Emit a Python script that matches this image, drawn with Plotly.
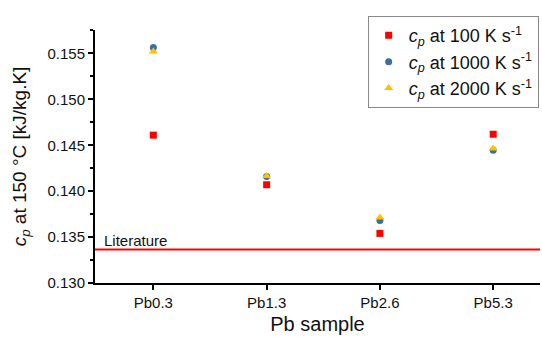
import plotly.graph_objects as go

samples = ["Pb0.3", "Pb1.3", "Pb2.6", "Pb5.3"]
cp_100 = [0.1461, 0.1407, 0.1354, 0.1462]
cp_1000 = [0.15565, 0.1416, 0.1368, 0.14446]
cp_2000 = [0.1552, 0.14166, 0.13714, 0.14464]
cp_literature = 0.13366

series = [
    ("<i>c<sub>p</sub></i> at 100 K s<sup>-1</sup>", cp_100, "square", "#ff0000", 7),
    ("<i>c<sub>p</sub></i> at 1000 K s<sup>-1</sup>", cp_1000, "circle", "#3a6ea5", 7),
    ("<i>c<sub>p</sub></i> at 2000 K s<sup>-1</sup>", cp_2000, "triangle-up", "#ffc000", 8),
]

fig = go.Figure()
for name, vals, sym, col, sz in series:
    fig.add_trace(go.Scatter(
        x=samples, y=vals, mode="markers", name=name,
        marker=dict(symbol=sym, color=col, size=sz, line=dict(width=0)),
    ))

# Literature reference value
fig.add_shape(type="line", xref="paper", x0=0, x1=1, yref="y",
              y0=cp_literature, y1=cp_literature,
              line=dict(color="#ff0000", width=2))
fig.add_annotation(xref="paper", x=0.016, yref="y", y=cp_literature,
                   text="Literature", showarrow=False, xanchor="left",
                   yanchor="bottom", yshift=-2,
                   font=dict(size=15, color="#111111"))

fig.update_layout(
    width=542, height=337,
    margin=dict(l=95, r=2, t=30, b=54, autoexpand=False),
    paper_bgcolor="white", plot_bgcolor="white",
    font=dict(family="Liberation Sans, Arial, sans-serif", color="#111111"),
    showlegend=True,
    legend=dict(x=0.997, y=1.055, xanchor="right", yanchor="top",
                bordercolor="#888888", borderwidth=1, bgcolor="white",
                font=dict(size=18), itemwidth=30, tracegroupgap=0),
    xaxis=dict(
        type="category", range=[-0.515, 3.413],
        showline=True, linecolor="black", linewidth=2,
        ticks="outside", ticklen=5, tickwidth=2, tickcolor="black",
        showgrid=False, zeroline=False,
        tickfont=dict(size=15),
        title=dict(text="Pb sample", font=dict(size=20), standoff=7),
    ),
    yaxis=dict(
        range=[0.130, 0.15755],
        dtick=0.005, tickformat=".3f",
        showline=True, linecolor="black", linewidth=2,
        ticks="outside", ticklen=5, tickwidth=2, tickcolor="black",
        minor=dict(ticks="outside", ticklen=3, tickwidth=1.5,
                   tickcolor="black", dtick=0.0025),
        showgrid=False, zeroline=False,
        tickfont=dict(size=15),
        title=dict(text="<i>c<sub>p</sub></i> at 150 °C [kJ/kg.K]",
                   font=dict(size=19), standoff=16),
    ),
)

fig.write_html("out.html")
